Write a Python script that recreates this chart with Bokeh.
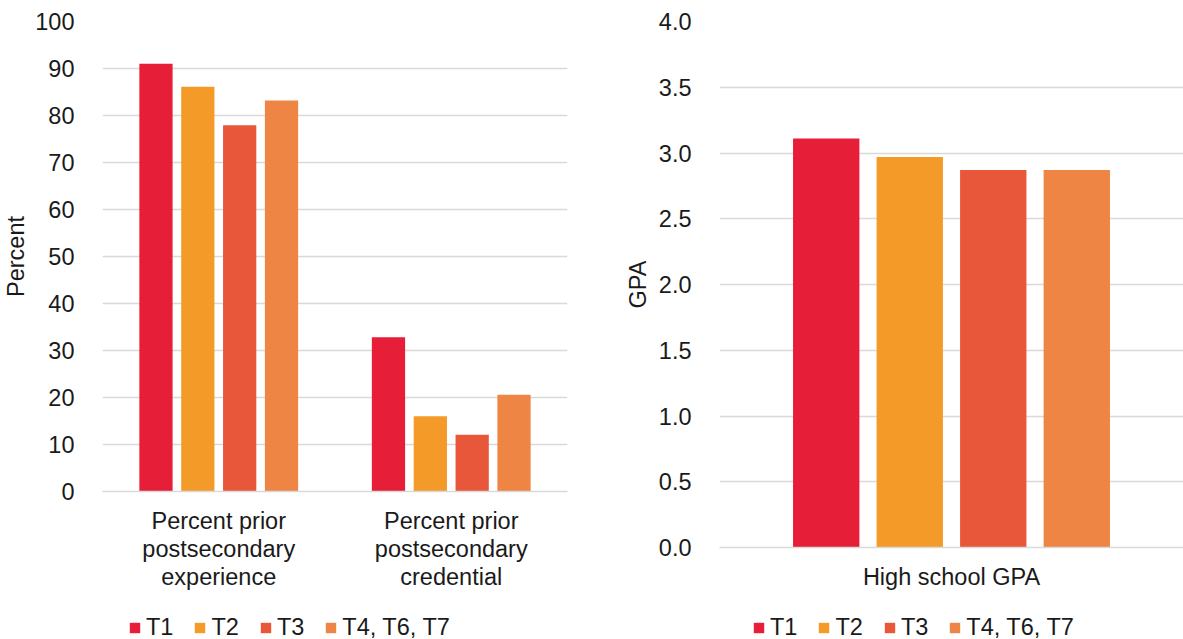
from bokeh.plotting import figure
from bokeh.layouts import row, column
from bokeh.models import Range1d, FixedTicker, Legend, LegendItem, ColumnDataSource
from bokeh.embed import file_html
from bokeh.resources import INLINE

# ---- data ----
series = ["T1", "T2", "T3", "T4, T6, T7"]
colors = ["#E61E37", "#F49A28", "#E9573A", "#EF8544"]
left_categories = ["Percent prior\npostsecondary\nexperience", "Percent prior\npostsecondary\ncredential"]
left_values = {
    "T1": [91.0, 32.8],
    "T2": [86.1, 16.0],
    "T3": [77.9, 12.1],
    "T4, T6, T7": [83.2, 20.6],
}
right_categories = ["High school GPA"]
right_values = {
    "T1": [3.11],
    "T2": [2.97],
    "T3": [2.87],
    "T4, T6, T7": [2.87],
}
left_ticks = list(range(0, 101, 10))
right_ticks = [0.0, 0.5, 1.0, 1.5, 2.0, 2.5, 3.0, 3.5, 4.0]

FONT = "Liberation Sans"
FS = "23.5px"
TXT = "#1a1a1a"
GRID = "#D9D9D9"
offsets = [-0.27, -0.09, 0.09, 0.27]
bar_w = 0.143
LEG_H = 30


def make(categories, values, ticks, ymax, ylabel, fw, fh, bl, br, bb, fmt, leg_x, ylab_standoff):
    n = len(categories)
    p = figure(frame_width=fw, frame_height=fh, output_backend="svg", toolbar_location=None,
               x_range=Range1d(0, n), y_range=Range1d(0, ymax),
               min_border_left=bl, min_border_right=br,
               min_border_top=21, min_border_bottom=bb)
    p.outline_line_color = None
    p.background_fill_color = "white"
    p.border_fill_color = "white"
    for s, c, off in zip(series, colors, offsets):
        src = ColumnDataSource(dict(x=[i + 0.5 + off for i in range(n)], top=values[s]))
        p.vbar(x="x", top="top", width=bar_w, source=src, fill_color=c, line_color=None)
    # y axis
    p.yaxis.ticker = FixedTicker(ticks=ticks)
    p.yaxis.major_label_overrides = {t: fmt(t) for t in ticks}
    p.yaxis.axis_line_color = None
    p.yaxis.major_tick_line_color = None
    p.yaxis.minor_tick_line_color = None
    p.yaxis.major_label_standoff = 22
    p.yaxis.major_label_text_font = FONT
    p.yaxis.major_label_text_font_size = FS
    p.yaxis.major_label_text_color = TXT
    p.yaxis.axis_label = ylabel
    p.yaxis.axis_label_standoff = ylab_standoff
    p.yaxis.axis_label_text_font = FONT
    p.yaxis.axis_label_text_font_size = FS
    p.yaxis.axis_label_text_font_style = "normal"
    p.yaxis.axis_label_text_color = TXT
    p.ygrid.grid_line_color = GRID
    p.ygrid.grid_line_width = 1.5
    p.xgrid.grid_line_color = None
    # x axis
    p.xaxis.ticker = FixedTicker(ticks=[i + 0.5 for i in range(n)])
    p.xaxis.major_label_overrides = {i + 0.5: categories[i] for i in range(n)}
    p.xaxis.axis_line_color = GRID
    p.xaxis.axis_line_width = 1.5
    p.xaxis.major_tick_line_color = None
    p.xaxis.minor_tick_line_color = None
    p.xaxis.major_label_standoff = 10
    p.xaxis.major_label_text_font = FONT
    p.xaxis.major_label_text_font_size = FS
    p.xaxis.major_label_text_color = TXT
    p.xaxis.major_label_text_line_height = 1.08

    # legend strip: a separate figure with the same frame geometry
    lg = figure(frame_width=fw, frame_height=LEG_H, output_backend="svg", toolbar_location=None,
                x_range=Range1d(0, 1), y_range=Range1d(0, 1),
                min_border_left=bl, min_border_right=br, min_border_top=0, min_border_bottom=0,
                x_axis_location=None, y_axis_location=None)
    lg.outline_line_color = None
    lg.xgrid.grid_line_color = None
    lg.ygrid.grid_line_color = None
    items = []
    for s, c in zip(series, colors):
        # zero-height proxy bar, only used to draw the legend swatch
        r = lg.vbar(x=[0.5], top=[0], bottom=[0], width=0.1, fill_color=c, line_color=None)
        items.append(LegendItem(label=s, renderers=[r]))
    leg = Legend(items=items, orientation="horizontal", location=(leg_x, -2),
                 label_text_font=FONT, label_text_font_size=FS, label_text_color=TXT,
                 glyph_width=13, glyph_height=13, label_standoff=5, spacing=20,
                 padding=0, margin=0, border_line_color=None, background_fill_alpha=0)
    lg.add_layout(leg, "center")
    return column(p, lg)


left = make(left_categories, left_values, left_ticks, 100, "Percent", 465, 470, 102, 23,
            639 - LEG_H - 21 - 470, lambda t: str(int(t)), 26, 3)
right = make(right_categories, right_values, right_ticks, 4.0, "GPA", 464, 526, 129, 0,
             639 - LEG_H - 21 - 526, lambda t: "%.1f" % t, 33, 5)

layout = row(left, right)
open("out.html", "w").write(file_html(layout, INLINE))
